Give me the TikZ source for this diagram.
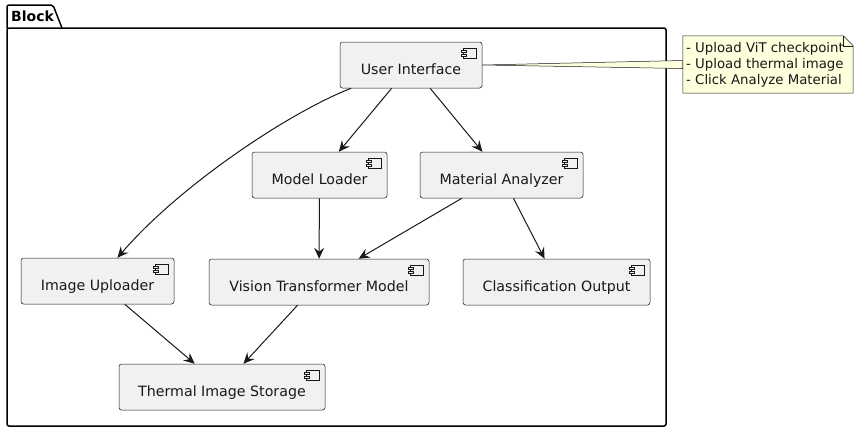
\documentclass[tikz,border=0pt]{standalone}
\usepackage{fontspec}
\setmainfont{DejaVu Sans}
\usetikzlibrary{arrows.meta,calc}
\definecolor{boxfill}{HTML}{F1F1F1}
\definecolor{boxline}{HTML}{181818}
\definecolor{notefill}{HTML}{FEFFDD}
\tikzset{
  comp/.style={draw=boxline, fill=boxfill, rounded corners=2.5pt, line width=0.5pt,
    minimum height=46pt, inner sep=0pt, text height=18pt, text depth=0pt,
    font=\fontsize{14.2}{16}\selectfont, text=boxline},
  icon/.style={draw=boxline, fill=boxfill, line width=0.5pt},
  flow/.style={draw=boxline, line width=1pt, -{Stealth[length=11pt,width=10pt,inset=4pt]}},
  pkgline/.style={draw=black, line width=1.5pt},
  notetext/.style={font=\fontsize{13.3}{16}\selectfont, inner sep=0pt, anchor=base west, text=boxline}
}
\newcommand\compicon[1]{%
  \draw[icon] ($(#1.north east)+(-19,6)$) rectangle ($(#1.north east)+(-6,16)$);
  \draw[icon] ($(#1.north east)+(-21,8)$) rectangle ($(#1.north east)+(-16,10.5)$);
  \draw[icon] ($(#1.north east)+(-21,12)$) rectangle ($(#1.north east)+(-16,14.5)$);
}
\begin{document}
\begin{tikzpicture}[x=1pt,y=-1pt]
\useasboundingbox (0,0) rectangle (863,432);
% package
\draw[pkgline, rounded corners=2pt] (7,28) -- (7,5) -- (53,5) -- (62,28);
\draw[pkgline, rounded corners=2pt] (7,28) rectangle (666,426);
\node[anchor=base west, inner sep=0pt, font=\fontsize{14}{16}\selectfont\bfseries] (pkgname) at (11,21) {Block};
% components
\node[comp, minimum width=142pt] (ui) at (411,65) {User Interface};
\node[comp, minimum width=135pt] (ml) at (319.5,175) {Model Loader};
\node[comp, minimum width=163pt] (ma) at (501.5,175) {Material Analyzer};
\node[comp, minimum width=153pt] (iu) at (97.5,281) {Image Uploader};
\node[comp, minimum width=220pt] (vit) at (319,282) {Vision Transformer Model};
\node[comp, minimum width=187pt] (co) at (556.5,282) {Classification Output};
\node[comp, minimum width=206pt] (ts) at (222,387) {Thermal Image Storage};
\foreach \n in {ui,ml,ma,iu,vit,co,ts}{\compicon{\n}}
% note
\node[minimum width=170pt, minimum height=57pt, inner sep=0pt] (note) at (768,64.5) {};
\draw[boxline, line width=0.5pt, fill=notefill] (ui.east) -- ($(note.west)+(0,-4)$) -- ($(note.west)+(0,4)$) -- cycle;
\draw[boxline, line width=0.5pt, fill=notefill] (note.north west) -- ($(note.north east)+(-10,0)$) -- ($(note.north east)+(0,10)$) -- (note.south east) -- (note.south west) -- cycle;
\draw[boxline, line width=0.5pt] ($(note.north east)+(-10,0)$) -- ($(note.north east)+(-10,10)$) -- ($(note.north east)+(0,10)$);
\node[notetext] (n1) at (686,52) {- Upload ViT checkpoint};
\node[notetext] (n2) at (686,68) {- Upload thermal image};
\node[notetext] (n3) at (686,84) {- Click Analyze Material};
% connectors
\draw[flow] (ui) .. controls (290,112) and (180,185) .. (iu);
\draw[flow] (ui) -- (ml);
\draw[flow] (ui) -- (ma);
\draw[flow] (ml) -- (vit);
\draw[flow] (ma) -- (vit);
\draw[flow] (ma) -- (co);
\draw[flow] (iu) -- (ts);
\draw[flow] (vit) -- (ts);
\end{tikzpicture}
\end{document}
